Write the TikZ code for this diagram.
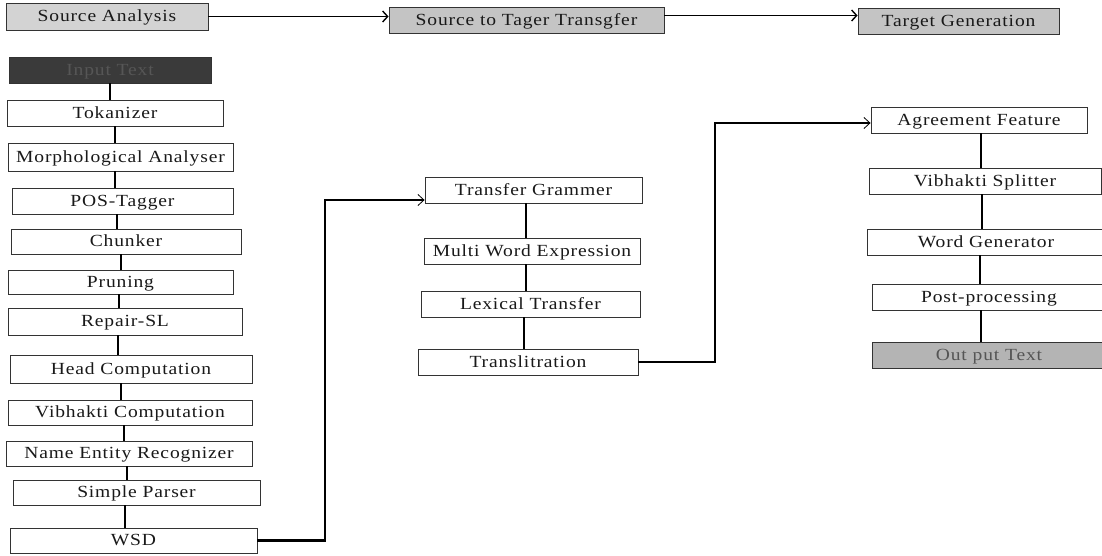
\documentclass[tikz,border=0pt]{standalone}
\usepackage{fontspec}
\setmainfont{Liberation Serif}[FakeStretch=1.15,LetterSpace=5]
\usetikzlibrary{arrows.meta}
\definecolor{hdrA}{HTML}{D3D3D3}
\definecolor{hdrB}{HTML}{C4C4C4}
\definecolor{inbox}{HTML}{3A3A3A}
\definecolor{intext}{HTML}{565656}
\definecolor{outbox}{HTML}{B4B4B4}
\definecolor{outtext}{HTML}{555555}
\definecolor{bord}{HTML}{333333}
\tikzset{
  box/.style={draw=bord, line width=0.9pt, fill=white, inner sep=0pt, text=black!90,
    text height=12pt, text depth=2pt, font=\fontsize{17}{20}\selectfont},
  conn/.style={line width=2.5pt, black},
  link/.style={line width=2.5pt, black, -{Straight Barb[line width=0.8pt,length=6pt,width=11pt]}},
  toparrow/.style={line width=1.4pt, black, -{Straight Barb[line width=1.4pt,length=5pt,width=11pt]}}
}
\begin{document}
\begin{tikzpicture}[x=1pt,y=-1pt]
\useasboundingbox (0,0) rectangle (1102,555);
% header row
\node[box,fill=hdrA,minimum width=202pt,minimum height=27pt] (SA) at (107,16.5) {Source Analysis};
\node[box,fill=hdrB,minimum width=275pt,minimum height=26pt] (ST) at (526.5,20) {Source to Tager Transgfer};
\node[box,fill=hdrB,minimum width=201pt,minimum height=26pt] (TG) at (958.5,21) {Target Generation};
\draw[toparrow] (SA.east) -- (SA.east -| ST.west);
\draw[toparrow] ([yshift=4.5pt]ST.east) -- ([yshift=4.5pt]ST.east -| TG.west);
% left column
\node[box,fill=inbox,text=intext,minimum width=202pt,minimum height=26pt] (IT) at (110,70) {Input Text};
\node[box,minimum width=216pt,minimum height=26pt] (Tok) at (115,113) {Tokanizer};
\node[box,minimum width=225pt,minimum height=28pt] (Mor) at (120.5,157) {Morphological Analyser};
\node[box,minimum width=221pt,minimum height=26pt] (POS) at (122.5,201) {POS-Tagger};
\node[box,minimum width=230pt,minimum height=25pt] (Chu) at (126,241.5) {Chunker};
\node[box,minimum width=225pt,minimum height=24pt] (Pru) at (120.5,282) {Pruning};
\node[box,minimum width=234pt,minimum height=27pt] (Rep) at (125,321.5) {Repair-SL};
\node[box,minimum width=242pt,minimum height=28pt] (Head) at (131,369) {Head Computation};
\node[box,minimum width=244pt,minimum height=25pt] (Vib) at (130,412.5) {Vibhakti Computation};
\node[box,minimum width=246pt,minimum height=25pt] (NER) at (129,453.5) {Name Entity Recognizer};
\node[box,minimum width=247pt,minimum height=25pt] (SP) at (136.5,492.5) {Simple Parser};
\node[box,minimum width=247pt,minimum height=25pt] (WSD) at (133.5,540.5) {WSD};
\foreach \a/\b/\s in {IT/Tok/0,Tok/Mor/0,Mor/POS/-5.5,POS/Chu/-5.5,Chu/Pru/-5,Pru/Rep/-1.5,Rep/Head/-7,Head/Vib/-10,Vib/NER/-6,NER/SP/-2,SP/WSD/-11.5}
  \draw[conn] ([xshift=\s pt]\a.south) -- ([xshift=\s pt]\a.south |- \b.north);
% middle column
\node[box,minimum width=217pt,minimum height=26pt] (TGm) at (533.5,190) {Transfer Grammer};
\node[box,minimum width=216pt,minimum height=26pt] (MWE) at (532,251) {Multi Word Expression};
\node[box,minimum width=219pt,minimum height=26pt] (LT) at (530.5,304) {Lexical Transfer};
\node[box,minimum width=220pt,minimum height=26pt] (TR) at (528,362) {Translitration};
\foreach \a/\b/\s in {TGm/MWE/-7.5,MWE/LT/-6,LT/TR/-6.5}
  \draw[conn] ([xshift=\s pt]\a.south) -- ([xshift=\s pt]\a.south |- \b.north);
% right column
\node[box,minimum width=216pt,minimum height=26pt] (AF) at (979,120) {Agreement Feature};
\node[box,minimum width=232pt,minimum height=26pt] (VS) at (985,181) {Vibhakti Splitter};
\node[box,minimum width=238pt,minimum height=26pt] (WG) at (986,242) {Word Generator};
\node[box,minimum width=234pt,minimum height=26pt] (PP) at (989,297) {Post-processing};
\node[box,fill=outbox,text=outtext,minimum width=234pt,minimum height=26pt] (OT) at (989,355) {Out put Text};
\foreach \a/\b/\s in {AF/VS/2,VS/WG/-3,WG/PP/-6,PP/OT/-8}
  \draw[conn] ([xshift=\s pt]\a.south) -- ([xshift=\s pt]\a.south |- \b.north);
% cross links
\coordinate (k1) at (325,0);
\coordinate (k2) at (715,0);
\draw[link] (WSD.east) -| ([yshift=-10pt]TGm.west -| k1) -- ([yshift=-10pt]TGm.west);
\draw[link] (TR.east) -| ([yshift=-3pt]AF.west -| k2) -- ([yshift=-3pt]AF.west);
\end{tikzpicture}
\end{document}
